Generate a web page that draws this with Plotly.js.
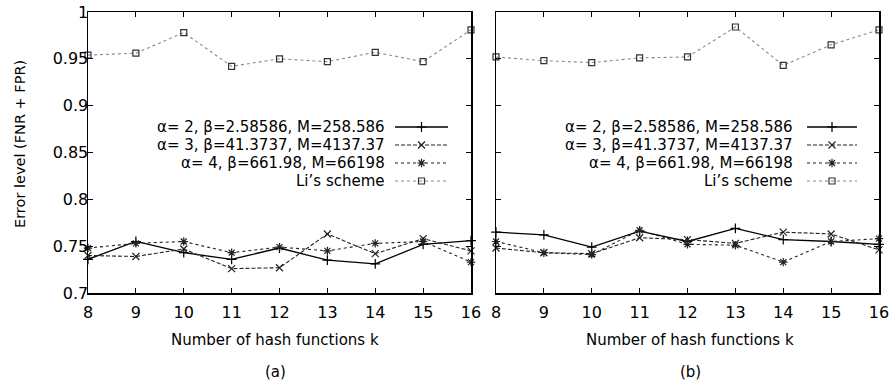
<!DOCTYPE html>
<html>
<head>
<meta charset="utf-8">
<script src="https://cdn.plot.ly/plotly-3.0.1.min.js"></script>
<style>html,body{margin:0;padding:0;background:#fff;}#chart{width:893px;height:385px;}</style>
</head>
<body>
<div id="chart"></div>
<script>
// ---- data ----
const kValues = [8, 9, 10, 11, 12, 13, 14, 15, 16];

const leftAlpha2 = [0.736, 0.755, 0.743, 0.736, 0.748, 0.735, 0.731, 0.752, 0.756];
const leftAlpha3 = [0.740, 0.739, 0.747, 0.726, 0.727, 0.763, 0.742, 0.758, 0.745];
const leftAlpha4 = [0.748, 0.753, 0.755, 0.743, 0.749, 0.745, 0.753, 0.755, 0.733];
const leftLi     = [0.954, 0.956, 0.978, 0.942, 0.950, 0.947, 0.957, 0.947, 0.981];

const rightAlpha2 = [0.765, 0.762, 0.749, 0.766, 0.755, 0.769, 0.757, 0.755, 0.752];
const rightAlpha3 = [0.748, 0.743, 0.742, 0.759, 0.757, 0.753, 0.765, 0.763, 0.746];
const rightAlpha4 = [0.755, 0.743, 0.741, 0.767, 0.752, 0.751, 0.733, 0.755, 0.758];
const rightLi     = [0.952, 0.948, 0.946, 0.951, 0.952, 0.984, 0.943, 0.965, 0.981];

const seriesNames = [
  'α= 2, β=2.58586, M=258.586',
  'α= 3, β=41.3737, M=4137.37',
  'α= 4, β=661.98, M=66198',
  'Li’s scheme'
];
const xTitle = 'Number of hash functions k';
const yTitle = 'Error level (FNR + FPR)';
const panelLabels = ['(a)', '(b)'];

// ---- styles ----
const FONT = 'DejaVu Sans, sans-serif';
const styles = [
  {line: {color: '#000', width: 1.3, dash: 'solid'}, marker: {symbol: 'cross-thin-open', size: 7, color: '#000', line: {color: '#000', width: 1.2}}},
  {line: {color: '#222', width: 1.1, dash: '4px,2px'}, marker: {symbol: 'x-thin-open', size: 7, color: '#222', line: {color: '#222', width: 1.2}}},
  {line: {color: '#222', width: 1.1, dash: 'dot'}, marker: {symbol: 'asterisk-open', size: 7, color: '#222', line: {color: '#222', width: 1.2}}},
  {line: {color: '#888', width: 1.1, dash: 'dot'}, marker: {symbol: 'square-open', size: 6, color: '#333', line: {color: '#333', width: 1.2}}}
];

const leftSeries = [leftAlpha2, leftAlpha3, leftAlpha4, leftLi];
const rightSeries = [rightAlpha2, rightAlpha3, rightAlpha4, rightLi];

const W = 893, H = 385, L = 88, R = 14, T = 12, B = 92;
const plotW = W - L - R, plotH = H - T - B;
function fx(px) { return (px - L) / plotW; }
function fy(py) { return (H - B - py) / plotH; }

const traces = [];
function addPanel(series, xa, ya) {
  series.forEach((vals, i) => {
    traces.push({
      x: kValues, y: vals, xaxis: xa, yaxis: ya,
      type: 'scatter', mode: 'lines+markers', name: seriesNames[i],
      line: styles[i].line, marker: styles[i].marker,
      showlegend: false, hoverinfo: 'skip', cliponaxis: false
    });
  });
}
addPanel(leftSeries, 'x', 'y');
addPanel(rightSeries, 'x2', 'y2');

// ---- manual legends (text, then sample on the right), pixel coords on overlay axis ----
const legendLayouts = [
  {textRight: 387, lineFrom: 395, lineTo: 448, rows: [127, 145, 163, 181]},
  {textRight: 795, lineFrom: 807, lineTo: 857, rows: [127, 145, 163, 181]}
];
const annotations = [];
legendLayouts.forEach(lg => {
  seriesNames.forEach((nm, i) => {
    const yy = lg.rows[i];
    const mid = (lg.lineFrom + lg.lineTo) / 2;
    traces.push({
      x: [lg.lineFrom, lg.lineTo], y: [yy, yy], xaxis: 'x3', yaxis: 'y3',
      type: 'scatter', mode: 'lines', line: styles[i].line,
      showlegend: false, hoverinfo: 'skip'
    });
    traces.push({
      x: [mid], y: [yy], xaxis: 'x3', yaxis: 'y3',
      type: 'scatter', mode: 'markers', marker: styles[i].marker,
      showlegend: false, hoverinfo: 'skip'
    });
    annotations.push({
      xref: 'paper', yref: 'paper', x: fx(lg.textRight), y: fy(yy), text: nm,
      xanchor: 'right', yanchor: 'middle', showarrow: false,
      font: {family: FONT, size: 15, color: '#000'}
    });
  });
});

// axis titles and panel labels
function label(px, py, text, extra) {
  return Object.assign({
    xref: 'paper', yref: 'paper', x: fx(px), y: fy(py), text: text,
    showarrow: false, xanchor: 'center', yanchor: 'middle',
    font: {family: FONT, size: 15, color: '#000'}
  }, extra || {});
}
annotations.push(
  label(275, 340, xTitle),
  label(690, 340, xTitle),
  label(275, 372, panelLabels[0]),
  label(690, 372, panelLabels[1]),
  label(20, 144, yTitle, {textangle: -90, font: {family: FONT, size: 14.5, color: '#000'}})
);

const baseX = {
  range: [8, 16], dtick: 1, tick0: 8, ticks: 'inside', ticklen: 5, tickwidth: 1,
  tickcolor: '#000', showline: true, linecolor: '#000', linewidth: 1.5, mirror: 'ticks',
  showgrid: false, zeroline: false, fixedrange: true,
  tickfont: {family: FONT, size: 16, color: '#000'}, ticklabelstandoff: 4
};
const baseY = {
  range: [0.7, 1], dtick: 0.05, tick0: 0.7, ticks: 'inside', ticklen: 5, tickwidth: 1,
  tickcolor: '#000', showline: true, linecolor: '#000', linewidth: 1.5, mirror: 'ticks',
  showgrid: false, zeroline: false, fixedrange: true,
  tickfont: {family: FONT, size: 16, color: '#000'}, ticklabelstandoff: -5
};

const layout = {
  width: W, height: H,
  margin: {l: L, r: R, t: T, b: B},
  paper_bgcolor: '#fff', plot_bgcolor: 'rgba(0,0,0,0)',
  showlegend: false,
  xaxis: Object.assign({}, baseX, {domain: [0, fx(471)], anchor: 'y'}),
  yaxis: Object.assign({}, baseY, {domain: [0, 1], anchor: 'x'}),
  xaxis2: Object.assign({}, baseX, {domain: [fx(496), 1], anchor: 'y2'}),
  yaxis2: Object.assign({}, baseY, {domain: [0, 1], anchor: 'x2', showticklabels: false}),
  xaxis3: {domain: [0, 1], range: [L, W - R], visible: false, anchor: 'y3', fixedrange: true},
  yaxis3: {domain: [0, 1], range: [H - B, T], visible: false, anchor: 'x3', fixedrange: true},
  annotations: annotations
};

Plotly.newPlot('chart', traces, layout, {displayModeBar: false, staticPlot: true});
</script>
</body>
</html>
